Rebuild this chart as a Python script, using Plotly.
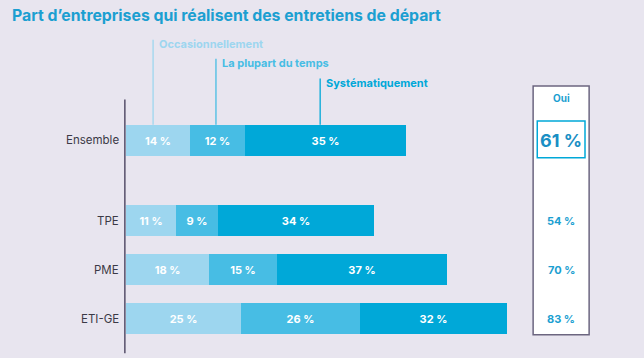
import plotly.graph_objects as go

categories = ["Ensemble", "TPE", "PME", "ETI-GE"]
occasionnellement = [14, 11, 18, 25]
plupart = [12, 9, 15, 26]
systematiquement = [35, 34, 37, 32]
oui = [61, 54, 70, 83]
series_names = ["Occasionnellement", "La plupart du temps", "Systématiquement"]

# vertical positions (Ensemble set apart from the others)
ypos = [3.64, 2, 1, 0]

BG = "#e8e5ef"
C1, C2, C3 = "#9dd6ef", "#47bde4", "#00a8d8"
TITLE_C = "#1c9fd1"
FONT = "Inter"

fig = go.Figure()
for name, vals, col in zip(series_names, [occasionnellement, plupart, systematiquement], [C1, C2, C3]):
    fig.add_trace(go.Bar(
        y=ypos, x=vals, orientation="h", name=name,
        marker=dict(color=col, line=dict(width=0)),
        width=0.63,
        text=[f"{v} %" for v in vals], textposition="inside", insidetextanchor="middle",
        textfont=dict(color="white", size=11, family=FONT, weight="bold"),
        showlegend=False, hoverinfo="skip",
    ))

ann = []
# category labels
for c, y in zip(categories, ypos):
    ann.append(dict(x=-1.0, y=y, xref="x", yref="y", text=c, showarrow=False,
                    xanchor="right", yanchor="middle",
                    font=dict(size=11.5, color="#3b3946", family=FONT)))

# series annotations with leader lines
shapes = []
leader_x = [occasionnellement[0] / 2 - 1.1,
            occasionnellement[0] + plupart[0] / 2 - 0.4,
            occasionnellement[0] + plupart[0] + systematiquement[0] / 2 - 1.2]
leader_top = [5.60, 5.21, 4.81]
for name, col, lx, lt in zip(series_names, [C1, C2, C3], leader_x, leader_top):
    shapes.append(dict(type="line", xref="x", yref="y", x0=lx, x1=lx,
                       y0=lt + 0.09, y1=ypos[0] + 0.315, line=dict(color=col, width=1.3)))
    ann.append(dict(x=lx + 0.9, y=lt, xref="x", yref="y", text=f"<b>{name}</b>",
                    showarrow=False, xanchor="left", yanchor="middle",
                    font=dict(size=11, color=col, family=FONT)))

# y axis line
shapes.append(dict(type="line", xref="x", yref="y", x0=-0.25, x1=-0.25, y0=4.47, y1=-0.71,
                   line=dict(color="#5f5872", width=1.6)))

# "Oui" column box
shapes.append(dict(type="rect", xref="x", yref="y", x0=88.7, x1=100.9, y0=6.5 - 86 / 49, y1=-0.33,
                   line=dict(color="#6c6680", width=1.5), fillcolor="white", layer="below"))
shapes.append(dict(type="rect", xref="x", yref="y", x0=89.6, x1=100.0, y0=ypos[0] + 0.39, y1=ypos[0] - 0.36,
                   line=dict(color=C3, width=1.5), fillcolor="white", layer="below"))
ann.append(dict(x=94.8, y=6.5 - 98 / 49, xref="x", yref="y", text="<b>Oui</b>", showarrow=False,
                font=dict(size=10, color=TITLE_C, family=FONT)))
for i, (v, y) in enumerate(zip(oui, ypos)):
    ann.append(dict(x=94.8, y=y, xref="x", yref="y", text=f"<b>{v} %</b>", showarrow=False,
                    font=dict(size=18 if i == 0 else 11, color=TITLE_C if i else "#1a8fc4", family=FONT)))

# title
ann.append(dict(x=10 / 644, y=1 - 15 / 358, xref="paper", yref="paper",
                text="<b>Part d’entreprises qui réalisent des entretiens de départ</b>",
                showarrow=False, xanchor="left", yanchor="middle",
                font=dict(size=15.8, color=TITLE_C, family=FONT)))

fig.update_layout(
    width=644, height=358, margin=dict(l=0, r=0, t=0, b=0),
    paper_bgcolor=BG, plot_bgcolor=BG, barmode="stack", bargap=0,
    xaxis=dict(range=[-126 / 4.59, 518 / 4.59], visible=False, fixedrange=True),
    yaxis=dict(range=[-0.806, 6.5], visible=False, fixedrange=True),
    annotations=ann, shapes=shapes, font=dict(family=FONT),
    uniformtext=dict(minsize=8, mode="show"),
)
fig.write_html("out.html", config={"displayModeBar": False},
               post_script="document.body.style.margin='0';document.body.style.background='%s';" % BG)
